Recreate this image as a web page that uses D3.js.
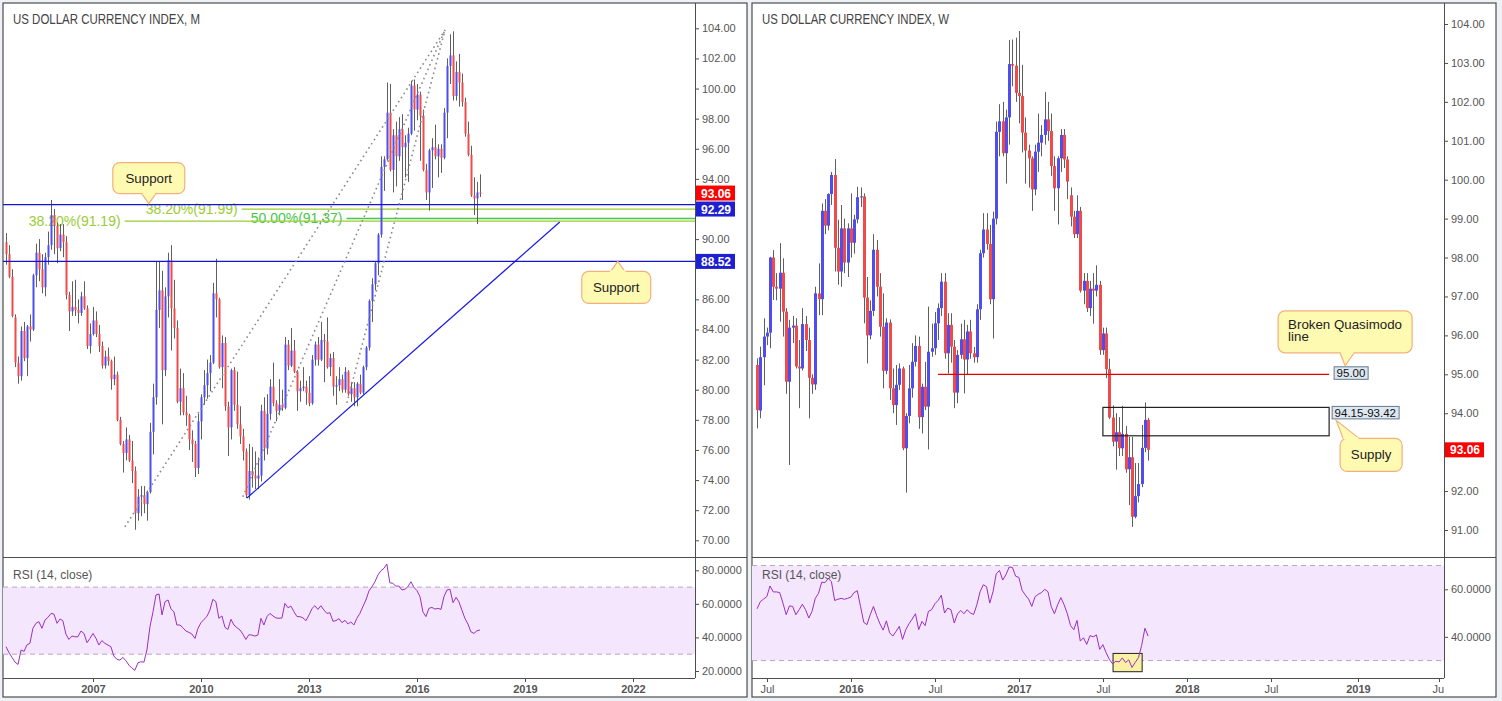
<!DOCTYPE html>
<html>
<head>
<meta charset="utf-8">
<script src="https://cdnjs.cloudflare.com/ajax/libs/d3/7.8.5/d3.min.js"></script>
<style>
  body { margin: 0; background: #eef1f5; overflow: hidden; }
  svg { display: block; }
  svg text { font-family: "Liberation Sans", Arial, sans-serif; }
</style>
</head>
<body>
<svg id="chart" width="1502" height="701"></svg>
<script>
// monthly bars from Aug 2004, [open, high, low, close]
var monthStart = new Date(2004, 7, 1);
var monthlyBars = [
  [89.8,90.4,88.3,89.0],[89.0,89.6,87.4,87.5],[87.5,88.0,84.8,84.9],[84.8,85.0,81.5,81.8],[81.8,82.2,80.4,80.9],
  [80.9,84.2,80.6,83.9],[83.9,84.5,81.9,82.1],[82.1,84.3,80.9,84.2],[84.2,85.0,83.2,84.0],[84.0,87.7,83.9,87.6],[87.6,89.7,86.8,89.1],
  [89.1,90.0,87.2,88.0],[88.0,89.0,86.4,86.8],[86.8,89.1,86.2,88.8],[88.8,90.5,88.3,89.6],[89.6,92.6,89.3,91.6],[91.6,92.0,89.0,90.9],
  [90.9,91.1,88.4,89.4],[89.4,91.0,89.2,90.3],[90.3,91.0,88.8,89.8],[89.8,90.2,86.0,86.3],[86.3,86.5,83.9,85.2],[85.2,87.2,84.9,85.5],
  [85.5,87.3,84.9,85.3],[85.3,86.0,84.4,85.1],[85.1,86.5,84.9,86.2],[86.2,87.2,85.3,85.4],[85.4,85.6,82.7,82.9],[82.9,84.4,82.4,83.7],
  [83.7,85.5,83.6,84.6],[84.6,85.2,83.5,83.7],[83.7,84.3,82.5,82.9],[82.9,83.2,81.4,81.6],[81.6,82.6,81.4,82.2],[82.2,82.8,81.6,81.9],
  [81.9,82.0,80.0,80.7],[80.7,82.2,80.3,81.0],[81.0,81.2,77.9,78.0],[78.0,78.2,76.3,76.4],[76.4,76.6,74.5,75.8],[75.8,77.5,75.3,76.7],
  [76.7,77.0,75.2,75.3],[75.3,76.6,73.8,74.6],[74.6,74.9,70.7,71.8],[71.8,73.4,71.3,72.9],[72.9,73.6,71.6,73.0],[73.0,73.6,71.8,72.4],
  [72.4,73.3,71.3,73.2],[73.2,77.8,73.1,77.2],[77.2,80.4,75.7,79.5],[79.5,88.5,79.0,85.3],[85.3,88.5,84.1,86.6],[86.6,87.9,77.7,81.3],
  [81.3,86.8,80.9,86.2],[86.2,89.1,84.8,88.6],[88.6,89.6,82.6,85.4],[85.4,87.3,83.4,84.1],[84.1,84.6,79.1,79.2],[79.2,81.4,78.3,80.1],
  [80.1,81.1,78.3,78.5],[78.5,79.6,77.6,78.3],[78.3,78.4,76.0,76.7],[76.7,77.3,75.2,76.4],[76.4,76.6,74.2,74.8],[74.8,78.4,74.4,77.9],
  [77.9,79.7,76.7,79.5],[79.5,81.3,79.0,80.3],[80.3,82.0,79.4,81.1],[81.1,82.3,79.9,81.8],[81.8,87.1,81.7,86.4],[86.4,88.7,84.8,86.0],
  [86.0,86.1,81.4,81.5],[81.5,83.6,80.1,83.1],[83.1,83.5,78.6,78.9],[78.9,79.2,75.6,77.5],[77.5,81.4,76.7,81.3],[81.3,81.5,78.6,79.0],
  [79.0,81.2,77.4,77.7],[77.7,78.9,76.4,76.9],[76.9,77.4,75.3,75.9],[75.9,76.1,72.8,73.0],[73.0,76.4,72.7,74.6],[74.6,76.2,73.5,74.3],
  [74.3,75.9,73.4,74.1],[74.1,75.5,73.4,74.3],[74.3,79.0,73.9,78.6],[78.6,79.5,75.3,76.1],[76.1,79.7,75.7,78.4],[78.4,80.7,78.0,80.2],
  [80.2,81.8,78.9,79.1],[79.1,79.3,77.9,78.6],[78.6,80.7,78.3,79.0],[79.0,80.0,78.6,78.8],[78.8,83.5,78.7,83.0],[83.0,83.3,81.3,81.6],
  [81.6,84.1,81.5,82.6],[82.6,83.3,81.1,81.2],[81.2,81.3,78.6,79.9],[79.9,80.6,79.2,80.1],[80.1,81.5,79.9,80.2],[80.2,80.6,79.0,79.8],
  [79.8,80.9,78.9,79.1],[79.1,82.3,79.0,82.0],[82.0,83.2,81.6,83.0],[83.0,83.5,81.6,82.0],[82.0,84.5,81.9,83.3],[83.3,83.7,80.5,83.2],
  [83.2,84.8,81.4,81.5],[81.5,82.4,80.9,82.1],[82.1,82.5,79.6,80.2],[80.2,80.9,79.0,80.3],[80.3,81.5,79.9,80.7],[80.7,81.0,79.8,80.0],
  [80.0,81.5,79.8,81.2],[81.2,81.3,79.6,79.7],[79.7,80.5,79.2,80.1],[80.1,80.5,78.9,79.5],[79.5,80.5,78.9,80.4],[80.4,81.0,79.7,79.8],
  [79.8,81.6,79.7,81.5],[81.5,82.9,81.3,82.8],[82.8,86.0,82.6,85.9],[85.9,87.4,84.5,87.0],[87.0,88.5,86.6,88.4],[88.4,90.4,87.6,90.3],
  [90.3,95.5,90.1,94.8],[94.8,95.5,93.2,95.3],[95.3,100.4,95.2,98.4],[98.4,100.3,94.5,94.6],[94.6,97.3,93.1,96.9],[96.9,97.8,93.5,95.5],
  [95.5,98.1,95.2,97.3],[97.3,98.3,92.6,96.1],[96.1,96.9,94.1,96.4],[96.4,97.4,93.8,97.0],[97.0,100.5,96.9,100.2],[100.2,100.6,97.2,98.6],
  [98.6,100.3,97.9,99.6],[99.6,99.8,95.2,98.2],[98.2,98.6,94.5,94.6],[94.6,95.0,92.6,93.1],[93.1,96.0,91.9,95.9],[95.9,96.7,93.4,96.1],
  [96.1,97.6,95.3,95.5],[95.5,96.3,94.1,96.0],[96.0,96.3,94.4,95.4],[95.4,98.7,95.3,98.4],[98.4,102.0,96.7,101.5],[101.5,103.6,100.3,102.2],
  [102.2,103.8,99.2,99.5],[99.5,101.8,99.2,101.1],[101.1,102.3,98.8,100.4],[100.4,101.0,98.8,99.1],[99.1,99.4,96.8,97.0],[97.0,97.8,95.5,95.6],
  [95.6,96.2,92.8,92.9],[92.9,94.1,91.6,92.7],[92.7,93.8,91.0,93.1],[93.1,94.3,92.8,93.06]
];
var monthlyRsi = [
  34.5,30.9,28.1,25.3,23.9,32.5,31.7,35.5,36.5,45.4,48.4,49.4,45.4,50.4,52.0,54.3,53.9,48.4,51.0,50.0,
  42.0,38.8,40.8,40.4,40.4,43.8,42.4,36.9,39.4,42.4,39.4,35.5,38.1,36.5,35.5,34.5,28.9,26.9,26.5,28.1,
  26.1,23.5,21.6,20.4,24.9,25.5,25.3,32.5,46.4,55.3,65.3,65.9,53.4,61.3,62.3,57.1,55.3,47.4,47.4,45.8,
  43.8,43.0,42.0,39.4,45.4,48.8,50.8,52.4,56.3,62.7,61.3,51.4,52.8,46.0,44.8,50.8,47.4,45.8,44.4,42.0,
  38.8,41.6,41.4,40.8,41.4,51.4,47.4,52.4,54.3,52.8,51.6,51.4,51.6,60.3,57.7,58.7,55.3,52.4,52.4,51.6,
  50.0,53.4,57.3,58.9,56.7,58.9,56.3,54.3,54.7,49.6,50.0,51.2,48.8,50.2,48.0,49.2,47.4,51.4,54.3,58.3,
  62.3,67.7,70.2,73.2,77.2,79.8,81.2,83.8,72.6,72.2,70.6,70.6,68.3,68.7,70.2,73.2,69.8,67.9,64.3,55.3,
  52.4,57.3,57.9,56.9,57.3,56.7,64.3,68.3,68.7,60.7,63.9,61.3,56.3,51.4,48.0,43.4,42.4,44.0,44.4
];

// weekly bars from week of 15 Jun 2015, [open, high, low, close]
var weekStart = new Date(2015, 5, 15);
var weeklyBars = [
  [95.24,95.41,93.61,94.08],[94.07,95.71,93.87,95.44],[95.44,96.44,94.72,95.97],[95.97,96.2,95.75,96.07],[96.07,98.02,95.67,98.0],
  [98.0,98.19,96.91,97.25],[97.25,97.6,96.9,97.2],[97.2,98.37,96.35,97.61],[97.61,97.98,95.97,96.61],[96.61,96.7,94.5,94.81],
  [94.81,96.4,92.67,96.2],[96.2,96.5,95.8,96.25],[96.25,96.44,95.15,95.2],[95.2,95.88,94.13,95.15],[95.15,96.7,95.1,96.29],
  [96.29,96.5,95.6,95.88],[95.88,96.2,93.87,94.91],[94.91,95.0,94.5,94.74],[94.74,97.25,94.6,97.08],[97.08,97.85,96.52,96.93],
  [96.93,99.39,96.52,99.2],[99.2,99.5,98.6,98.82],[98.82,99.65,98.7,99.63],[99.63,100.2,99.35,100.12],[100.12,100.53,97.64,98.25],
  [98.25,98.97,97.3,97.64],[97.64,99.35,97.25,98.75],[98.75,99.0,97.6,97.87],[97.87,98.88,97.5,98.75],[98.75,99.65,98.0,98.38],
  [98.38,99.1,98.1,98.98],[98.98,99.82,98.88,99.55],[99.55,99.8,99.3,99.57],[99.57,99.65,96.31,96.97],[96.97,97.5,95.28,96.0],
  [96.0,96.9,95.9,96.63],[96.63,98.6,96.5,98.2],[98.2,98.45,97.0,97.25],[97.25,97.6,95.97,96.22],[96.22,97.08,94.64,95.09],
  [95.09,96.44,95.0,96.33],[96.33,96.41,94.34,94.64],[94.64,95.15,94.0,94.21],[94.21,95.24,93.7,94.73],[94.73,95.28,94.6,95.15],
  [95.15,95.2,93.05,93.1],[93.1,94.0,91.96,93.93],[93.93,95.24,93.74,94.64],[94.64,95.8,94.4,95.32],[95.32,96.0,95.2,95.73],
  [95.73,95.97,93.6,93.9],[93.9,94.76,93.48,94.68],[94.68,95.32,94.08,94.17],[94.17,96.74,93.07,95.58],[95.58,96.3,95.45,95.67],
  [95.67,96.6,95.5,96.31],[96.31,96.82,95.88,96.7],[96.7,97.6,96.5,97.38],[97.38,97.6,95.4,95.54],[95.54,96.57,95.02,96.27],
  [96.27,96.57,95.3,95.71],[95.71,95.88,94.13,94.53],[94.53,95.62,94.26,95.5],[95.5,96.3,95.4,95.9],[95.9,96.4,94.51,95.38],
  [95.38,96.27,94.98,96.1],[96.1,96.4,95.4,95.54],[95.54,95.7,95.3,95.44],[95.44,96.8,95.3,96.67],[96.67,98.2,96.4,98.11],
  [98.11,99.14,98.0,98.72],[98.72,99.14,98.2,98.35],[98.35,98.84,96.8,96.93],[96.93,99.18,95.92,99.0],[99.0,101.49,98.85,101.23],
  [101.23,101.94,100.6,101.5],[101.5,102.0,100.6,100.68],[100.68,101.8,99.9,101.6],[101.6,103.59,100.9,102.97],[102.97,103.6,102.4,102.93],
  [102.93,103.65,102.0,102.23],[102.23,103.82,101.45,102.15],[102.15,102.95,100.7,101.21],[101.21,101.6,99.9,100.75],[100.75,100.9,99.8,100.55],
  [100.55,100.6,99.2,99.75],[99.75,100.9,99.6,100.72],[100.72,101.7,100.2,100.95],[100.95,101.4,100.6,101.15],[101.15,102.25,100.9,101.55],
  [101.55,102.0,101.0,101.25],[101.25,101.7,100.1,100.35],[100.35,100.6,99.2,99.78],[99.78,100.6,98.85,100.55],[100.55,101.3,100.2,101.15],
  [101.15,101.3,100.3,100.52],[100.52,100.6,99.5,99.95],[99.6,99.8,98.8,99.05],[99.05,99.2,98.5,98.6],[98.6,99.6,98.5,99.2],
  [99.2,99.3,97.1,97.15],[97.15,97.6,96.8,97.4],[97.4,97.6,96.6,96.7],[96.7,97.4,96.5,97.2],[97.2,97.6,96.3,97.15],
  [97.15,97.8,97.0,97.3],[97.3,97.4,95.5,95.62],[95.62,96.2,95.5,96.05],[96.05,96.2,94.9,95.13],[95.13,95.4,93.85,93.89],
  [93.89,94.2,93.15,93.27],[93.27,94.0,92.55,93.51],[93.51,93.9,92.9,93.1],[93.1,94.19,92.9,93.47],[93.47,93.67,92.47,92.56],
  [92.56,93.39,91.64,92.87],[92.87,93.39,91.08,91.34],[91.34,92.72,91.3,91.87],[91.87,92.72,91.71,92.18],[92.18,93.7,92.1,93.11],
  [93.11,94.28,93.0,93.83],[93.83,93.88,92.78,93.06]
];
var weeklyRsi = [
  51.8,54.8,55.9,56.9,61.4,58.9,58.9,58.6,54.2,49.3,53.0,52.8,49.3,51.4,53.7,51.4,47.9,50.7,56.2,58.3,
  63.0,62.8,64.6,63.2,55.3,55.8,56.2,55.8,56.2,56.7,58.6,59.4,52.8,46.1,45.1,49.3,52.8,48.9,45.5,42.8,
  46.7,41.7,40.3,42.3,44.4,38.9,43.0,45.5,47.5,49.7,43.0,46.5,44.7,50.7,51.4,53.9,55.3,57.5,50.0,52.1,
  51.4,45.8,49.6,51.1,49.7,51.4,50.0,49.4,53.5,59.0,61.9,61.1,54.2,59.0,66.6,67.9,63.9,66.1,69.4,69.2,
  65.5,65.0,59.6,57.6,55.9,52.8,56.9,57.9,58.6,60.0,59.0,52.8,49.7,53.5,56.5,53.5,49.7,44.7,43.0,46.9,
  38.2,39.6,36.8,40.5,40.0,40.8,34.7,36.7,33.3,30.5,28.6,29.7,29.4,31.1,29.2,30.3,27.1,29.2,31.2,36.4,
  43.6,40.3
];

var leftPriceTicks = [104, 102, 100, 98, 96, 94, 90, 86, 84, 82, 80, 78, 76, 74, 72, 70];
var rightPriceTicks = [104, 103, 102, 101, 100, 99, 98, 97, 96, 95, 94, 92, 91];
var leftRsiTicks = [80, 60, 40, 20];
var rightRsiTicks = [60, 40];
var leftTimeTicks = [['2007-01-01', '2007'], ['2010-01-01', '2010'], ['2013-01-01', '2013'],
  ['2016-01-01', '2016'], ['2019-01-01', '2019'], ['2022-01-01', '2022']];
var rightTimeTicks = [['2015-07-06', 'Jul'], ['2016-01-04', '2016'], ['2016-07-04', 'Jul'], ['2017-01-02', '2017'],
  ['2017-07-03', 'Jul'], ['2018-01-01', '2018'], ['2018-07-02', 'Jul'], ['2019-01-07', '2019'], ['2019-07-01', 'Jul']];

var lastPrice = 93.06;
var leftLevels = [92.29, 88.52];
var fibLevels = [
  {price: 91.99, label: '38.20%(91.99)', from: '2008-06-20', kind: 'a'},
  {price: 91.37, label: '50.00%(91.37)', from: '2011-05-20', kind: 'b'},
  {price: 91.19, label: '38.20%(91.19)', from: '2005-03-20', kind: 'a'}
];
var fanLows = [['2007-11-20', 70.89], ['2011-03-01', 72.89], ['2014-01-20', 79.13]];
var fanHigh = ['2016-10-12', 103.89];
var trendLine = [['2011-04-12', 72.81], ['2019-12-20', 91.14]];
var supportNotes = [
  {date: '2008-07-20', price: 92.29, text: 'Support', side: 'above'},
  {date: '2021-07-30', price: 88.52, text: 'Support', side: 'below'}
];
var quasimodo = {price: 95.00, from: '2016-07-11', to: '2018-11-05'};
var supply = {top: 94.15, bottom: 93.42, from: '2017-07-03', to: '2018-11-05'};
var rsiBox = {from: '2017-07-25', to: '2017-09-26', top: 33, bottom: 25.3};

var parse = d3.timeParse('%Y-%m-%d');
var UP = '#4e4ef0', DOWN = '#f04b4b', WICK = '#5f5f5f', TXT = '#555';
var svg = d3.select('#chart');

var monthly = monthlyBars.map(function(b, i) {
  return {date: d3.timeMonth.offset(monthStart, i), o: b[0], h: b[1], l: b[2], c: b[3], rsi: monthlyRsi[i]};
});
var weekly = weeklyBars.map(function(b, i) {
  return {date: d3.timeDay.offset(weekStart, 7 * i), o: b[0], h: b[1], l: b[2], c: b[3], rsi: weeklyRsi[i]};
});

// panel frame: price pane, rsi pane, time row, price axis on the right
function panel(id, p) {
  var g = svg.append('g');
  g.append('rect').attr('x', p.x0).attr('y', p.top).attr('width', p.ax - p.x0).attr('height', p.bottom - p.top)
    .attr('fill', '#fff').attr('stroke', '#4d4d4d').attr('stroke-width', 1.2);
  var defs = svg.append('defs');
  [['price', p.top, p.mid], ['rsi', p.mid, p.low], ['time', p.low, p.bottom]].forEach(function(c) {
    defs.append('clipPath').attr('id', id + c[0]).append('rect')
      .attr('x', p.x0).attr('y', c[1]).attr('width', p.x1 - p.x0).attr('height', c[2] - c[1]);
  });
  return g;
}

function frameLines(g, p) {
  g.append('line').attr('x1', p.x1 + 0.5).attr('x2', p.x1 + 0.5).attr('y1', p.top).attr('y2', p.low)
    .attr('stroke', '#4d4d4d');
  g.append('line').attr('x1', p.x0).attr('x2', p.ax).attr('y1', p.mid + 0.5).attr('y2', p.mid + 0.5)
    .attr('stroke', '#4d4d4d');
  g.append('line').attr('x1', p.x0).attr('x2', p.x1).attr('y1', p.low + 0.5).attr('y2', p.low + 0.5)
    .attr('stroke', '#4d4d4d');
}

function candles(g, data, x, y, bw) {
  var gg = g.append('g');
  gg.selectAll('line').data(data).join('line')
    .attr('x1', function(d) { return Math.round(x(d.date)) + 0.5; })
    .attr('x2', function(d) { return Math.round(x(d.date)) + 0.5; })
    .attr('y1', function(d) { return y(d.h); })
    .attr('y2', function(d) { return y(d.l); })
    .attr('stroke', WICK).attr('stroke-width', 1);
  gg.selectAll('rect').data(data).join('rect')
    .attr('x', function(d) { return Math.round(x(d.date)) - (bw - 1) / 2; })
    .attr('width', bw)
    .attr('y', function(d) { return y(Math.max(d.o, d.c)); })
    .attr('height', function(d) { return Math.max(1, Math.abs(y(d.o) - y(d.c))); })
    .attr('fill', function(d) { return d.c >= d.o ? UP : DOWN; });
}

function priceAxis(g, p, y, ticks, fmt) {
  ticks.forEach(function(t) {
    g.append('line').attr('x1', p.x1).attr('x2', p.x1 + 4).attr('y1', y(t) + 0.5).attr('y2', y(t) + 0.5)
      .attr('stroke', '#4d4d4d');
    g.append('text').attr('x', p.x1 + 7).attr('y', y(t) + 4).attr('font-size', 11).attr('fill', TXT).text(fmt(t));
  });
}

function timeAxis(g, id, p, x, ticks) {
  var tg = g.append('g').attr('clip-path', 'url(#' + id + 'time)');
  ticks.forEach(function(t) {
    var xx = Math.round(x(parse(t[0]))) + 0.5;
    tg.append('line').attr('x1', xx).attr('x2', xx).attr('y1', p.low).attr('y2', p.low + 4).attr('stroke', '#4d4d4d');
    tg.append('text').attr('x', xx).attr('y', p.low + 15).attr('text-anchor', 'middle')
      .attr('font-size', 11).attr('font-weight', /^\d/.test(t[1]) ? 'bold' : 'normal').attr('fill', TXT).text(t[1]);
  });
}

function rsiPane(g, id, p, x, y, data, ticks) {
  var rg = g.append('g').attr('clip-path', 'url(#' + id + 'rsi)');
  rg.append('rect').attr('x', p.x0).attr('width', p.x1 - p.x0).attr('y', y(70)).attr('height', y(30) - y(70))
    .attr('fill', '#f4e6fd');
  [70, 30].forEach(function(v) {
    rg.append('line').attr('x1', p.x0).attr('x2', p.x1).attr('y1', y(v)).attr('y2', y(v))
      .attr('stroke', '#b8a6c2').attr('stroke-dasharray', '5,4');
  });
  priceAxis(g, p, y, ticks, d3.format('.4f'));
  g.append('text').attr('x', p.x0 + 10).attr('y', p.mid + 22).attr('font-size', 12).attr('fill', TXT).text('RSI (14, close)');
  return rg;
}

function rsiLine(rg, x, y, data) {
  rg.append('path').datum(data)
    .attr('d', d3.line().x(function(d) { return x(d.date); }).y(function(d) { return y(d.rsi); }))
    .attr('fill', 'none').attr('stroke', '#9b2fc0').attr('stroke-width', 1);
}

function axisBox(g, p, yc, color, label) {
  g.append('rect').attr('x', p.x1 + 1).attr('y', yc - 7.5).attr('width', 39).attr('height', 15).attr('fill', color);
  g.append('text').attr('x', p.x1 + 6).attr('y', yc + 4.5).attr('font-size', 12).attr('font-weight', 'bold')
    .attr('fill', '#fff').text(label);
}

function callout(g, box, tip, a, b, lines) {
  var fill = '#fffab2', stroke = '#f2b07c';
  g.append('rect').attr('x', box.x).attr('y', box.y).attr('width', box.w).attr('height', box.h).attr('rx', 7)
    .attr('fill', fill).attr('stroke', stroke).attr('stroke-width', 1.2);
  g.append('path').attr('d', 'M' + a + 'L' + tip + 'L' + b).attr('fill', fill).attr('stroke', stroke).attr('stroke-width', 1.2);
  g.append('line').attr('x1', a[0] + 0.8).attr('y1', a[1]).attr('x2', b[0] - 0.8).attr('y2', b[1])
    .attr('stroke', fill).attr('stroke-width', 2.6);
  lines.forEach(function(l) {
    g.append('text').attr('x', l.x).attr('y', l.y).attr('text-anchor', l.anchor || 'start')
      .attr('font-size', 13.3).attr('fill', '#222').text(l.t);
  });
}

function title(g, p, text) {
  g.append('text').attr('x', p.x0 + 10).attr('y', p.top + 21).attr('font-size', 14.5)
    .attr('font-family', '"Liberation Sans Narrow", "Liberation Sans", Arial, sans-serif')
    .attr('fill', '#444')
    .attr('textLength', 187).attr('lengthAdjust', 'spacingAndGlyphs').text(text);
}

// ---------------- left: monthly ----------------
var L = {x0: 3, x1: 695, ax: 747, top: 3, mid: 557, low: 678, bottom: 697};
var gl = panel('L', L);
var xL = d3.scaleTime().domain([new Date(2007, 0, 1), new Date(2022, 0, 1)]).range([93, 633]);
var yL = d3.scaleLinear().domain([104, 70]).range([28.3, 540.3]);
var rL = d3.scaleLinear().domain([80, 20]).range([570.3, 671]);

var pl = gl.append('g').attr('clip-path', 'url(#Lprice)');
fibLevels.forEach(function(f) {
  var col = f.kind === 'a' ? '#9acd32' : '#46c846';
  var tx = xL(parse(f.from)), ty = yL(f.price);
  var t = pl.append('text').attr('x', tx).attr('y', ty + 5).attr('font-size', 14).attr('fill', col).text(f.label);
  var w = t.node().getComputedTextLength();
  pl.append('line').attr('x1', tx + w + 4).attr('x2', L.x1).attr('y1', ty).attr('y2', ty)
    .attr('stroke', col).attr('stroke-width', 1.3);
});
candles(pl, monthly, xL, yL, 2);
leftLevels.forEach(function(v) {
  pl.append('line').attr('x1', L.x0).attr('x2', L.x1).attr('y1', yL(v)).attr('y2', yL(v))
    .attr('stroke', '#1414d8').attr('stroke-width', 1.3);
});
fanLows.forEach(function(f) {
  pl.append('line').attr('x1', xL(parse(f[0]))).attr('y1', yL(f[1]))
    .attr('x2', xL(parse(fanHigh[0]))).attr('y2', yL(fanHigh[1]))
    .attr('stroke', '#8a8a8a').attr('stroke-width', 1.6).attr('stroke-dasharray', '1.6,3.4');
});
pl.append('line').attr('x1', xL(parse(trendLine[0][0]))).attr('y1', yL(trendLine[0][1]))
  .attr('x2', xL(parse(trendLine[1][0]))).attr('y2', yL(trendLine[1][1]))
  .attr('stroke', '#1a1ae6').attr('stroke-width', 1.2);
supportNotes.forEach(function(n) {
  var tx = xL(parse(n.date)), ty = yL(n.price);
  var w = 72, h = 31;
  var bx = tx - w / 2;
  if (n.side === 'above') {
    var by = ty - 11 - h;
    callout(gl, {x: bx, y: by, w: w, h: h}, [tx, ty - 1], [tx - 7, by + h], [tx + 7, by + h],
      [{x: tx, y: by + 20, t: n.text, anchor: 'middle'}]);
  } else {
    var by2 = ty + 10;
    callout(gl, {x: bx, y: by2, w: w - 3, h: h + 1}, [tx, ty], [tx + 7, by2], [tx - 7, by2],
      [{x: tx - 1.5, y: by2 + 21, t: n.text, anchor: 'middle'}]);
  }
});
var lr = rsiPane(gl, 'L', L, xL, rL, monthly, leftRsiTicks);
rsiLine(lr, xL, rL, monthly);
frameLines(gl, L);
priceAxis(gl, L, yL, leftPriceTicks, d3.format('.2f'));
timeAxis(gl, 'L', L, xL, leftTimeTicks);
// axis labels for last price and horizontal levels, pushed apart when they touch
var lastY = yL(lastPrice);
axisBox(gl, L, lastY, '#ff0000', lastPrice.toFixed(2));
var prevBottom = lastY + 7.5;
leftLevels.forEach(function(v) {
  var yc = Math.max(yL(v), prevBottom + 8.5);
  axisBox(gl, L, yc, '#1f1fd2', v.toFixed(2));
  prevBottom = yc + 7.5;
});
title(gl, L, 'US DOLLAR CURRENCY INDEX, M');

// ---------------- right: weekly ----------------
var R = {x0: 752, x1: 1444, ax: 1496, top: 3, mid: 557, low: 678, bottom: 697};
var gr = panel('R', R);
var xR = d3.scaleTime().domain([new Date(2015, 6, 6), new Date(2019, 6, 1)]).range([766.8, 1439]);
var yR = d3.scaleLinear().domain([104, 91]).range([24, 530]);
var rR = d3.scaleLinear().domain([60, 40]).range([589.3, 636.8]);

var pr = gr.append('g').attr('clip-path', 'url(#Rprice)');
candles(pr, weekly, xR, yR, 3);
var qx1 = xR(parse(quasimodo.from)), qx2 = xR(parse(quasimodo.to)), qy = yR(quasimodo.price);
pr.append('line').attr('x1', qx1).attr('x2', qx2).attr('y1', qy).attr('y2', qy)
  .attr('stroke', '#e00000').attr('stroke-width', 1.2);
var sx1 = xR(parse(supply.from)), sx2 = xR(parse(supply.to));
pr.append('rect').attr('x', sx1).attr('y', yR(supply.top)).attr('width', sx2 - sx1)
  .attr('height', yR(supply.bottom) - yR(supply.top)).attr('fill', 'none').attr('stroke', '#222').attr('stroke-width', 1.2);

function tagBox(g, x, y, label, w) {
  g.append('rect').attr('x', x).attr('y', y).attr('width', w).attr('height', 12.5)
    .attr('fill', '#dde7f0').attr('stroke', '#62788e').attr('stroke-width', 1);
  g.append('text').attr('x', x + 2.5).attr('y', y + 10.5).attr('font-size', 11.5).attr('fill', '#111').text(label);
}
var qTag = {x: qx2 + 5, y: qy - 7.5};
tagBox(gr, qTag.x, qTag.y, quasimodo.price.toFixed(2), 34);
var sTag = {x: sx2 + 3, y: yR(supply.top) - 1};
tagBox(gr, sTag.x, sTag.y, supply.top.toFixed(2) + '-' + supply.bottom.toFixed(2), 67);

callout(gr, {x: qTag.x - 56, y: qTag.y - 56, w: 134, h: 42}, [qTag.x + 11, qTag.y - 1],
  [qTag.x + 6, qTag.y - 14], [qTag.x + 20, qTag.y - 14],
  [{x: qTag.x - 46, y: qTag.y - 38, t: 'Broken Quasimodo'}, {x: qTag.x - 46, y: qTag.y - 26, t: 'line'}]);
callout(gr, {x: sTag.x + 8, y: sTag.y + 32, w: 62, h: 33}, [sTag.x + 4, sTag.y + 14],
  [sTag.x + 11, sTag.y + 32], [sTag.x + 27, sTag.y + 32],
  [{x: sTag.x + 39, y: sTag.y + 53, t: 'Supply', anchor: 'middle'}]);

var rr = rsiPane(gr, 'R', R, xR, rR, weekly, rightRsiTicks);
var bx1 = xR(parse(rsiBox.from)), bx2 = xR(parse(rsiBox.to));
rr.append('rect').attr('x', bx1).attr('y', rR(rsiBox.top)).attr('width', bx2 - bx1)
  .attr('height', rR(rsiBox.bottom) - rR(rsiBox.top)).attr('fill', '#fbf1a4').attr('stroke', '#222').attr('stroke-width', 1);
rsiLine(rr, xR, rR, weekly);
frameLines(gr, R);
priceAxis(gr, R, yR, rightPriceTicks, d3.format('.2f'));
timeAxis(gr, 'R', R, xR, rightTimeTicks);
axisBox(gr, R, yR(lastPrice), '#ff0000', lastPrice.toFixed(2));
title(gr, R, 'US DOLLAR CURRENCY INDEX, W');
</script>
</body>
</html>
